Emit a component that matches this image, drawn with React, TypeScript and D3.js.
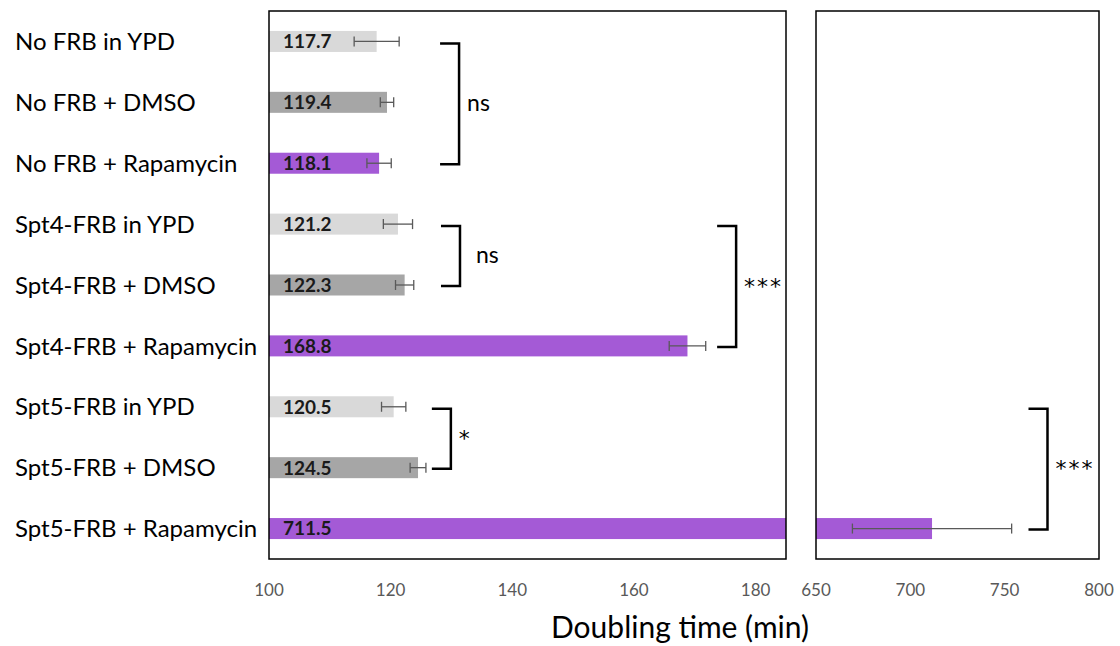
import React, { useRef, useEffect } from "react";
import * as d3 from "d3";

// categories, top to bottom
const categories = [
  "No FRB in YPD",
  "No FRB + DMSO",
  "No FRB + Rapamycin",
  "Spt4-FRB in YPD",
  "Spt4-FRB + DMSO",
  "Spt4-FRB + Rapamycin",
  "Spt5-FRB in YPD",
  "Spt5-FRB + DMSO",
  "Spt5-FRB + Rapamycin",
];
const treatments = ["YPD", "DMSO", "Rapamycin", "YPD", "DMSO", "Rapamycin", "YPD", "DMSO", "Rapamycin"];
const doublingTimes = [117.7, 119.4, 118.1, 121.2, 122.3, 168.8, 120.5, 124.5, 711.5];
const errors = [3.7, 1.1, 2.0, 2.4, 1.5, 3.0, 2.0, 1.3, 42.2];

// broken axis: two panels
const leftDomain = [100, 185];
const rightDomain = [650, 800];
const leftTicks = [100, 120, 140, 160, 180];
const rightTicks = [650, 700, 750, 800];

// significance brackets (row indices, position in axis units, panel)
const bracketFrom = [0, 3, 3, 6, 6];
const bracketTo = [2, 4, 5, 7, 8];
const bracketAt = [131.25, 131.4, 176.8, 129.9, 772.7];
const bracketPanel = ["left", "left", "left", "left", "right"];
const bracketLabels = ["ns", "ns", "***", "*", "***"];

const App = () => {
  const ref = useRef<SVGSVGElement>(null);

  useEffect(() => {
    const top = 11;
    const bottom = 559;
    const leftX = [269, 786];
    const rightX = [816, 1099];

    const svg = d3.select(ref.current);
    svg.selectAll("*").remove();

    const y = d3.scaleBand().domain(categories).range([top, bottom]).paddingInner(0.655).paddingOuter(0.3275);
    const xl = d3.scaleLinear().domain(leftDomain).range(leftX);
    const xr = d3.scaleLinear().domain(rightDomain).range(rightX);
    const color = d3
      .scaleOrdinal<string, string>()
      .domain(["YPD", "DMSO", "Rapamycin"])
      .range(["#d9d9d9", "#a6a6a6", "#a45ad6"]);

    const defs = svg.append("defs");
    [["clipL", leftX], ["clipR", rightX]].forEach(([id, r]: any) => {
      defs
        .append("clipPath")
        .attr("id", id)
        .append("rect")
        .attr("x", r[0])
        .attr("y", top)
        .attr("width", r[1] - r[0])
        .attr("height", bottom - top);
    });

    const rows = categories.map((c, i) => ({
      cat: c,
      t: treatments[i],
      v: doublingTimes[i],
      e: errors[i],
    }));

    const drawPanel = (x: d3.ScaleLinear<number, number>, clip: string, ticks: number[]) => {
      const g = svg.append("g").attr("clip-path", `url(#${clip})`);
      g.selectAll("rect.bar")
        .data(rows)
        .join("rect")
        .attr("class", "bar")
        .attr("x", x.range()[0])
        .attr("y", (d) => y(d.cat)!)
        .attr("height", y.bandwidth())
        .attr("width", (d) => Math.max(0, x(d.v) - x.range()[0]))
        .attr("fill", (d) => color(d.t));

      // error bars
      const eb = g
        .selectAll("g.err")
        .data(rows)
        .join("g")
        .attr("class", "err")
        .attr("stroke", "#595959")
        .attr("stroke-width", 1.3);
      eb.append("line")
        .attr("x1", (d) => x(d.v - d.e))
        .attr("x2", (d) => x(d.v + d.e))
        .attr("y1", (d) => y(d.cat)! + y.bandwidth() / 2)
        .attr("y2", (d) => y(d.cat)! + y.bandwidth() / 2);
      [-1, 1].forEach((s) => {
        eb.append("line")
          .attr("x1", (d) => x(d.v + s * d.e))
          .attr("x2", (d) => x(d.v + s * d.e))
          .attr("y1", (d) => y(d.cat)! + y.bandwidth() / 2 - 5)
          .attr("y2", (d) => y(d.cat)! + y.bandwidth() / 2 + 5);
      });

      // frame
      svg
        .append("rect")
        .attr("x", x.range()[0])
        .attr("y", top)
        .attr("width", x.range()[1] - x.range()[0])
        .attr("height", bottom - top)
        .attr("fill", "none")
        .attr("stroke", "#000")
        .attr("stroke-width", 1.5);

      // tick labels
      svg
        .append("g")
        .selectAll("text")
        .data(ticks)
        .join("text")
        .attr("x", (d) => x(d))
        .attr("y", 596)
        .attr("text-anchor", "middle")
        .attr("fill", "#595959")
        .attr("font-size", 17)
        .text((d) => d);
    };

    drawPanel(xl, "clipL", leftTicks);
    drawPanel(xr, "clipR", rightTicks);

    // value labels inside bars
    svg
      .append("g")
      .selectAll("text")
      .data(rows)
      .join("text")
      .attr("x", leftX[0] + 14)
      .attr("y", (d) => y(d.cat)! + y.bandwidth() / 2)
      .attr("dy", "0.36em")
      .attr("font-size", 19)
      .attr("font-weight", "bold")
      .attr("fill", "#1a1a1a")
      .text((d) => d.v.toFixed(1));

    // category labels
    svg
      .append("g")
      .selectAll("text")
      .data(categories)
      .join("text")
      .attr("x", 15)
      .attr("y", (d) => y(d)! + y.bandwidth() / 2)
      .attr("dy", "0.36em")
      .attr("font-size", 24)
      .attr("fill", "#000")
      .text((d) => d);

    // brackets
    const arm = 19;
    bracketLabels.forEach((lab, i) => {
      const x = bracketPanel[i] === "left" ? xl : xr;
      const bx = x(bracketAt[i]);
      const y1 = y(categories[bracketFrom[i]])! + y.bandwidth() / 2 + 2;
      const y2 = y(categories[bracketTo[i]])! + y.bandwidth() / 2 + 1;
      svg
        .append("path")
        .attr("d", `M${bx - arm},${y1}H${bx}V${y2}H${bx - arm}`)
        .attr("fill", "none")
        .attr("stroke", "#000")
        .attr("stroke-width", 2.5);
      const stars = lab.includes("*");
      svg
        .append("text")
        .attr("x", bx + (i === 1 ? 16 : 8))
        .attr("y", (y1 + y2) / 2 + (stars ? 7 : 7))
        .attr("font-size", stars ? 22 : 23)
        .attr("font-family", stars ? "'DejaVu Sans', sans-serif" : null)
        .attr("letter-spacing", stars ? 2 : 0)
        .attr("fill", "#000")
        .text(lab);
    });

    // axis title
    svg
      .append("text")
      .attr("x", 680)
      .attr("y", 638)
      .attr("text-anchor", "middle")
      .attr("font-size", 30)
      .attr("fill", "#000")
      .text("Doubling time (min)");
  }, []);

  return (
    <svg
      ref={ref}
      width={1120}
      height={646}
      style={{ position: "absolute", left: 0, top: 0, background: "#fff", fontFamily: "Lato, sans-serif" }}
    />
  );
};

export default App;
